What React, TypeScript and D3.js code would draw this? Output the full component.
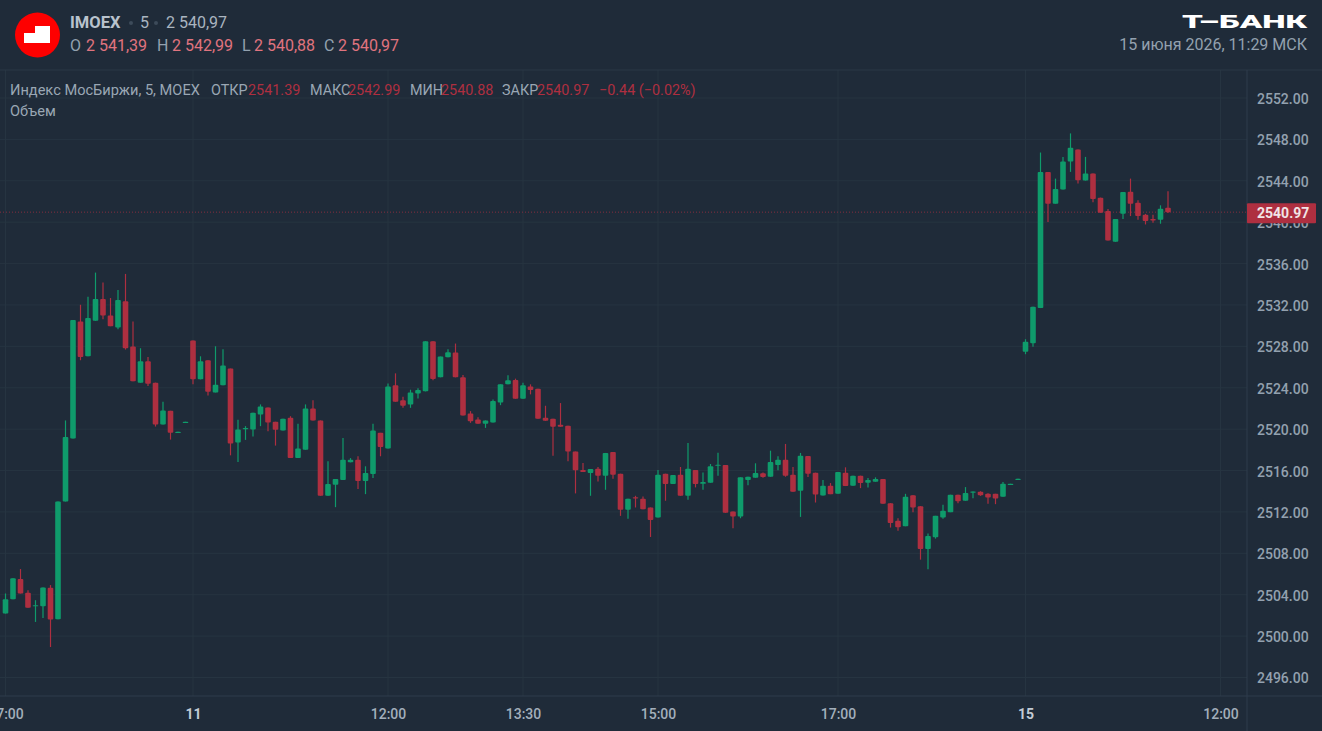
import React, { useEffect, useRef } from 'react';
import * as d3 from 'd3';

const opens = [
  2502.18, 2503.57, 2505.51, 2504.19, 2502.89, 2502.89, 2504.67, 2501.63, 2513.01, 2519.09,
  2530.41, 2527.04, 2530.47, 2532.57, 2530.99, 2529.82, 2532.35, 2527.98, 2524.49, 2526.56,
  2524.49, 2520.45, 2521.77, 2519.67, 2520.64, 2528.56, 2524.81, 2526.66, 2523.55, 2524.23,
  2525.85, 2518.7, 2520.0, 2519.96, 2521.42, 2522.1, 2520.71, 2519.87, 2521.09, 2517.21,
  2518.02, 2522.0, 2520.84, 2513.56, 2514.63, 2515.08, 2516.79, 2517.05, 2514.98, 2515.66,
  2519.64, 2518.12, 2524.23, 2522.78, 2522.39, 2523.45, 2523.65, 2528.5, 2525.01, 2526.95,
  2527.4, 2525.01, 2521.51, 2520.93, 2520.51, 2520.64, 2522.58, 2524.33, 2524.75, 2522.94,
  2524.13, 2523.91, 2521.09, 2521.0, 2520.42, 2520.32, 2517.83, 2516.05, 2515.76, 2516.18,
  2515.5, 2517.8, 2515.69, 2512.2, 2513.43, 2513.27, 2512.43, 2511.46, 2515.69, 2514.69,
  2515.6, 2513.56, 2516.05, 2514.72, 2514.82, 2516.47, 2516.53, 2512.04, 2511.56, 2515.08,
  2515.31, 2515.73, 2515.4, 2516.53, 2517.05, 2515.6, 2514.05, 2517.41, 2515.79, 2513.59,
  2514.53, 2513.75, 2515.79, 2514.53, 2515.5, 2514.82, 2514.92, 2515.18, 2512.85, 2511.14,
  2510.62, 2513.62, 2512.56, 2508.42, 2509.55, 2511.46, 2511.98, 2513.66, 2513.08, 2513.88,
  2513.95, 2513.75, 2513.75, 2513.46, 2514.63, 2515.11, 2527.47, 2528.31, 2531.7, 2544.86,
  2541.79, 2543.15, 2545.86, 2547.02, 2544.02, 2544.7, 2542.37, 2541.08, 2538.1, 2540.82,
  2542.95, 2541.88, 2540.72, 2540.3, 2540.24, 2541.39,
];

const highs = [
  2504.12, 2505.58, 2506.48, 2504.44, 2503.47, 2504.7, 2504.93, 2513.01, 2520.84, 2530.54,
  2532.02, 2532.8, 2535.13, 2534.16, 2532.67, 2533.44, 2535.0, 2530.41, 2527.82, 2526.98,
  2524.49, 2522.65, 2521.77, 2519.74, 2520.71, 2528.56, 2527.04, 2526.66, 2528.01, 2527.72,
  2525.85, 2520.9, 2520.29, 2521.58, 2522.39, 2522.1, 2520.71, 2521.0, 2521.25, 2520.51,
  2522.39, 2522.78, 2520.84, 2516.89, 2515.18, 2519.15, 2517.2, 2517.38, 2516.41, 2520.51,
  2519.64, 2524.42, 2525.39, 2523.13, 2523.81, 2523.94, 2528.5, 2528.5, 2527.01, 2527.72,
  2528.27, 2525.23, 2521.74, 2521.16, 2520.84, 2522.87, 2524.33, 2525.2, 2524.88, 2524.49,
  2524.33, 2523.91, 2522.26, 2521.0, 2522.52, 2520.32, 2517.83, 2516.73, 2516.15, 2516.34,
  2517.7, 2517.8, 2515.69, 2513.27, 2513.56, 2513.5, 2512.43, 2516.05, 2515.69, 2515.56,
  2516.34, 2518.67, 2516.05, 2515.82, 2516.63, 2517.73, 2516.53, 2512.04, 2515.34, 2515.4,
  2516.7, 2515.8, 2517.92, 2517.38, 2518.57, 2516.34, 2517.7, 2517.41, 2515.79, 2515.08,
  2514.79, 2515.86, 2516.31, 2515.5, 2515.5, 2515.27, 2515.34, 2515.18, 2512.85, 2511.39,
  2513.75, 2513.62, 2512.56, 2509.91, 2511.62, 2512.69, 2513.66, 2513.66, 2514.4, 2513.98,
  2514.0, 2513.8, 2513.75, 2514.89, 2514.72, 2515.21, 2528.69, 2531.83, 2546.73, 2544.86,
  2544.21, 2546.31, 2548.58, 2547.02, 2546.31, 2544.7, 2542.37, 2541.27, 2540.3, 2542.92,
  2544.21, 2542.11, 2540.8, 2540.72, 2541.63, 2542.99,
];

const lows = [
  2502.18, 2503.57, 2504.12, 2502.73, 2501.37, 2501.76, 2498.95, 2501.63, 2513.01, 2519.09,
  2526.66, 2527.04, 2530.47, 2530.63, 2529.95, 2529.66, 2527.69, 2524.62, 2524.49, 2524.17,
  2520.25, 2520.45, 2518.99, 2519.67, 2520.64, 2524.33, 2524.81, 2523.26, 2523.55, 2524.23,
  2517.47, 2516.83, 2518.96, 2519.28, 2520.29, 2519.8, 2518.41, 2519.87, 2517.21, 2517.21,
  2518.02, 2520.84, 2513.56, 2513.56, 2512.46, 2515.08, 2516.79, 2514.21, 2513.72, 2515.27,
  2517.38, 2518.12, 2522.65, 2522.06, 2522.06, 2522.97, 2523.65, 2524.72, 2525.01, 2526.95,
  2525.01, 2521.32, 2520.61, 2520.51, 2520.12, 2520.64, 2522.32, 2524.33, 2522.94, 2522.94,
  2523.36, 2521.0, 2520.8, 2517.44, 2520.22, 2516.89, 2513.79, 2515.86, 2513.56, 2514.95,
  2514.14, 2515.21, 2511.62, 2511.33, 2512.43, 2512.27, 2509.58, 2511.46, 2513.08, 2514.69,
  2513.56, 2513.17, 2514.37, 2514.14, 2514.82, 2515.5, 2511.91, 2510.42, 2511.39, 2514.59,
  2515.31, 2515.3, 2515.4, 2516.02, 2515.4, 2513.95, 2511.52, 2515.37, 2512.91, 2513.59,
  2513.72, 2513.75, 2514.5, 2514.53, 2514.3, 2514.37, 2514.92, 2512.78, 2510.49, 2510.17,
  2510.62, 2511.98, 2507.39, 2506.45, 2509.42, 2511.33, 2511.98, 2512.85, 2513.08, 2513.33,
  2513.55, 2512.78, 2512.75, 2513.46, 2514.63, 2515.11, 2527.24, 2527.95, 2531.7, 2540.01,
  2541.79, 2543.15, 2544.86, 2543.73, 2544.02, 2541.92, 2540.91, 2538.23, 2538.1, 2540.3,
  2540.59, 2540.24, 2539.78, 2539.94, 2539.85, 2540.88,
];

const closes = [
  2503.57, 2505.58, 2504.12, 2502.73, 2502.99, 2504.7, 2501.6, 2513.01, 2519.25, 2530.54,
  2526.98, 2530.73, 2532.57, 2530.99, 2529.95, 2532.48, 2527.82, 2524.62, 2526.56, 2524.39,
  2520.45, 2521.81, 2519.64, 2519.74, 2520.71, 2524.81, 2526.56, 2523.62, 2524.3, 2526.14,
  2518.61, 2519.96, 2520.12, 2521.58, 2522.19, 2520.64, 2519.93, 2521.0, 2517.21, 2518.12,
  2522.0, 2520.84, 2513.56, 2514.69, 2515.18, 2517.05, 2517.05, 2514.98, 2515.76, 2519.87,
  2518.28, 2524.13, 2522.65, 2522.26, 2523.55, 2523.78, 2528.5, 2524.84, 2527.01, 2527.43,
  2525.01, 2521.32, 2520.77, 2520.51, 2520.84, 2522.71, 2524.33, 2524.72, 2522.94, 2524.23,
  2523.78, 2521.0, 2520.8, 2520.22, 2520.22, 2517.83, 2516.02, 2515.86, 2516.15, 2515.5,
  2517.7, 2515.6, 2512.2, 2513.27, 2513.3, 2512.27, 2511.23, 2515.6, 2514.69, 2515.56,
  2513.56, 2516.18, 2514.69, 2514.89, 2516.41, 2516.57, 2511.91, 2511.56, 2515.34, 2515.4,
  2515.76, 2515.37, 2516.83, 2517.05, 2515.5, 2513.95, 2517.44, 2515.69, 2513.69, 2514.53,
  2513.72, 2515.86, 2514.5, 2515.5, 2514.79, 2515.08, 2515.18, 2512.78, 2510.94, 2510.52,
  2513.46, 2512.43, 2508.42, 2509.68, 2511.62, 2512.11, 2513.66, 2513.04, 2513.82, 2513.98,
  2513.62, 2513.4, 2513.3, 2514.72, 2514.72, 2515.21, 2528.44, 2531.83, 2544.86, 2541.79,
  2543.21, 2545.86, 2547.19, 2544.05, 2544.7, 2542.24, 2540.91, 2538.23, 2540.3, 2542.92,
  2541.79, 2540.59, 2540.11, 2540.17, 2541.3, 2540.97,
];

const lastPrice = 2540.97;
const priceTicks = d3.range(2496, 2553, 4);
// candle slot -> label on the time axis, 162 is past the last candle
const timeSlots = [0, 25, 51, 69, 87, 111, 136, 162];
const timeLabels = ['17:00', '11', '12:00', '13:30', '15:00', '17:00', '15', '12:00'];
const dayLabels = ['11', '15'];

const bg = '#1f2b39';
const grid = '#263441';
const upColor = '#0f9b6b';
const downColor = '#ae2f40';
const axisText = '#93a1af';
const font = 'Roboto, "Noto Sans", sans-serif';

const ohlcRow = [
  ['O', '2 541,39', 70, 86],
  ['H', '2 542,99', 157, 172],
  ['L', '2 540,88', 242, 254],
  ['C', '2 540,97', 324, 338],
] as const;

const legendRow = [
  ['ОТКР', '2541.39', 211, 248],
  ['МАКС', '2542.99', 310, 348],
  ['МИН', '2540.88', 410, 441],
  ['ЗАКР', '2540.97', 502, 537],
] as const;

export default function App() {
  const ref = useRef<SVGGElement>(null);

  const x = d3.scaleLinear().domain([0, 155]).range([5.5, 1168]);
  const y = d3.scaleLinear().domain([2552, 2496]).range([98, 677.5]);
  const plotRight = 1247;
  const plotTop = 70;
  const plotBottom = 696;

  useEffect(() => {
    if (!ref.current) return;
    const g = d3.select(ref.current);
    g.selectAll('*').remove();

    // horizontal and vertical grid
    g.append('g')
      .selectAll('line')
      .data(priceTicks)
      .join('line')
      .attr('x1', 0)
      .attr('x2', plotRight)
      .attr('y1', d => y(d))
      .attr('y2', d => y(d))
      .attr('stroke', grid);

    g.append('g')
      .selectAll('line')
      .data(timeSlots)
      .join('line')
      .attr('x1', d => x(d))
      .attr('x2', d => x(d))
      .attr('y1', plotTop)
      .attr('y2', plotBottom)
      .attr('stroke', grid);

    // frame
    g.append('line').attr('x1', 0).attr('x2', 1322).attr('y1', plotTop).attr('y2', plotTop).attr('stroke', '#2a3847');
    g.append('line').attr('x1', 0).attr('x2', 1322).attr('y1', plotBottom).attr('y2', plotBottom).attr('stroke', '#2f3d4c');
    g.append('line').attr('x1', plotRight).attr('x2', plotRight).attr('y1', plotTop).attr('y2', 731).attr('stroke', '#2f3d4c');

    // last price line
    g.append('line')
      .attr('x1', 0)
      .attr('x2', plotRight)
      .attr('y1', y(lastPrice))
      .attr('y2', y(lastPrice))
      .attr('stroke', downColor)
      .attr('stroke-opacity', 0.7)
      .attr('stroke-dasharray', '1 2');

    // candles
    const candles = d3.range(opens.length);
    const colorOf = (i: number) => (closes[i] >= opens[i] ? upColor : downColor);

    g.append('g')
      .selectAll('line')
      .data(candles)
      .join('line')
      .attr('x1', i => x(i))
      .attr('x2', i => x(i))
      .attr('y1', i => y(highs[i]))
      .attr('y2', i => y(lows[i]))
      .attr('stroke', colorOf)
      .attr('stroke-width', 1.2);

    g.append('g')
      .selectAll('rect')
      .data(candles)
      .join('rect')
      .attr('x', i => x(i) - 2.8)
      .attr('width', 5.6)
      .attr('y', i => y(Math.max(opens[i], closes[i])))
      .attr('height', i => Math.max(1.2, Math.abs(y(opens[i]) - y(closes[i]))))
      .attr('rx', 1)
      .attr('fill', colorOf);

    // price axis
    const yAxis = g
      .append('g')
      .attr('transform', `translate(${plotRight + 10},1)`)
      .call(d3.axisRight(y).tickValues(priceTicks).tickSize(0).tickPadding(0).tickFormat(d3.format('.2f') as any));
    yAxis.select('.domain').remove();
    yAxis
      .selectAll('text')
      .attr('fill', axisText)
      .attr('font-family', font)
      .attr('font-weight', 500)
      .attr('font-size', 14);

    // time axis
    const xAxis = g
      .append('g')
      .attr('transform', `translate(0,${plotBottom})`)
      .call(
        d3
          .axisBottom(x)
          .tickValues(timeSlots)
          .tickSize(0)
          .tickPadding(13)
          .tickFormat((_, i) => timeLabels[i]),
      );
    xAxis.select('.domain').remove();
    xAxis
      .selectAll<SVGTextElement, number>('text')
      .attr('font-family', font)
      .attr('font-size', 14)
      .attr('font-weight', (_, i) => (dayLabels.includes(timeLabels[i]) ? 700 : 500))
      .attr('fill', (_, i) => (dayLabels.includes(timeLabels[i]) ? '#c3ccd5' : '#a3afbb'));

    // last price tag
    g.append('rect')
      .attr('x', plotRight)
      .attr('y', y(lastPrice) - 9)
      .attr('width', 69)
      .attr('height', 20)
      .attr('rx', 1)
      .attr('fill', downColor);
    g.append('text')
      .attr('x', plotRight + 10)
      .attr('y', y(lastPrice) + 6)
      .attr('fill', '#f1e4e6')
      .attr('font-family', font)
      .attr('font-weight', 700)
      .attr('font-size', 14)
      .text(d3.format('.2f')(lastPrice));
  }, []);

  return (
    <svg
      width={1322}
      height={731}
      style={{ position: 'fixed', left: 0, top: 0, display: 'block', background: bg }}
      fontFamily={font}
    >
      <rect width={1322} height={731} fill={bg} />
      <g ref={ref} />

      {/* header */}
      <circle cx={37.5} cy={35} r={22.5} fill="#fe0000" />
      <path d="M24 43V33H35V26H50V43Z" fill="#fff" />
      <text x={70} y={28} fontSize={16.5} fontWeight={700} fill="#b9c3cd">IMOEX</text>
      <circle cx={131} cy={23} r={2} fill="#3d4b5a" />
      <text x={140} y={28} fontSize={16} fill="#aab5c0">5</text>
      <circle cx={156} cy={23} r={2} fill="#3d4b5a" />
      <text x={166} y={28} fontSize={16} fill="#aab5c0">2 540,97</text>
      {ohlcRow.map(([k, v, kx, vx]) => (
        <g key={k} fontSize={16}>
          <text x={kx} y={51} fill="#93a1af">{k}</text>
          <text x={vx} y={51} fill="#e0747f">{v}</text>
        </g>
      ))}
      <text x={1182} y={28} fontSize={18} fontWeight={900} fill="#fff" textLength={125} lengthAdjust="spacingAndGlyphs">
        Т–БАНК
      </text>
      <text x={1307} y={50} fontSize={16} fill="#93a1af" textAnchor="end">15 июня 2026, 11:29 МСК</text>

      {/* legend */}
      <text x={10} y={95} fontSize={14.6} fill="#9aa7b4">Индекс МосБиржи, 5, MOEX</text>
      {legendRow.map(([k, v, kx, vx]) => (
        <g key={k} fontSize={14.4}>
          <text x={kx} y={95} fill="#9aa7b4">{k}</text>
          <text x={vx} y={95} fill={downColor}>{v}</text>
        </g>
      ))}
      <text x={599} y={95} fontSize={14.4} fill={downColor}>−0.44 (−0.02%)</text>
      <text x={10} y={116} fontSize={14.6} fill="#9aa7b4">Объем</text>
    </svg>
  );
}
